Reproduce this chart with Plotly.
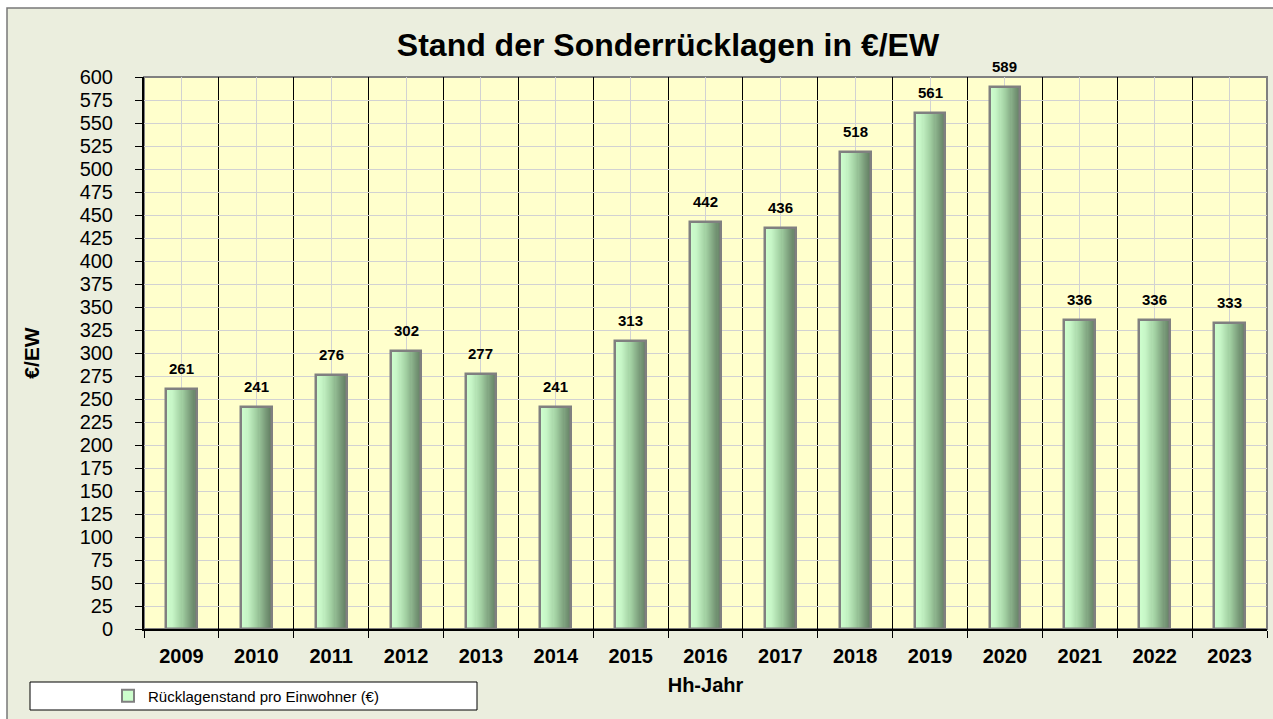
import plotly.graph_objects as go

# Reserve balance per inhabitant, by budget year
years = ["2009", "2010", "2011", "2012", "2013", "2014", "2015", "2016",
         "2017", "2018", "2019", "2020", "2021", "2022", "2023"]
values = [261, 241, 276, 302, 277, 241, 313, 442, 436, 518, 561, 589, 336, 336, 333]

series_name = "Rücklagenstand pro Einwohner (€)"
chart_title = "Stand der Sonderrücklagen in €/EW"
x_title = "Hh-Jahr"
y_title = "€/EW"

FONT = "Liberation Sans, Arial, sans-serif"
W, H = 1273, 719
L, R, T, B = 144, 6, 77, 90
PW, PH = W - L - R, H - T - B

BAR_W = 0.41
N_STRIPS = 28
BORDER = "rgb(128,128,128)"

# horizontal shading of the bars (light left edge -> dark right edge)
stops = [(0.0, (206, 255, 206)), (0.2, (198, 245, 198)), (0.5, (162, 208, 162)),
         (0.8, (122, 156, 122)), (1.0, (98, 126, 98))]


def shade(t):
    for (t0, c0), (t1, c1) in zip(stops[:-1], stops[1:]):
        if t <= t1:
            f = (t - t0) / (t1 - t0)
            return "rgb(%d,%d,%d)" % tuple(round(a + (b - a) * f) for a, b in zip(c0, c1))
    return "rgb(%d,%d,%d)" % stops[-1][1]


def px_x(px):
    return (px - L) / PW


def px_y(py):
    return (H - B - py) / PH


idx = list(range(len(years)))
fig = go.Figure()

for k in range(N_STRIPS):
    off = -BAR_W / 2 + k * BAR_W / N_STRIPS
    fig.add_trace(go.Bar(
        x=idx, y=values,
        width=[BAR_W - k * BAR_W / N_STRIPS] * len(idx),
        offset=[off] * len(idx),
        marker=dict(color=shade((k + 0.5) / N_STRIPS),
                    line=dict(color=BORDER, width=2 if k == 0 else 0)),
        name=series_name,
        showlegend=(k == 0),
        hoverinfo="skip",
    ))

# bar outlines
fig.add_trace(go.Bar(
    x=idx, y=values, width=[BAR_W] * len(idx), offset=[-BAR_W / 2] * len(idx),
    marker=dict(color="rgba(0,0,0,0)", line=dict(color=BORDER, width=2.5)),
    showlegend=False,
    customdata=years,
    hovertemplate="%{customdata}: %{y}<extra></extra>",
))

# value labels above the bars
annotations = [
    dict(x=i, y=v, xref="x", yref="y", text=str(v), showarrow=False,
         yanchor="bottom", yshift=10,
         font=dict(family=FONT, size=15, color="black", weight="bold"))
    for i, v in zip(idx, values)
]

shapes = [
    # chart area
    dict(type="rect", xref="paper", yref="paper", layer="below",
         x0=px_x(7), x1=px_x(W + 10), y0=px_y(H + 10), y1=px_y(8),
         fillcolor="rgb(235,238,222)", line=dict(color="rgb(120,120,120)", width=1.5)),
    # plot area
    dict(type="rect", xref="paper", yref="paper", layer="below",
         x0=0, x1=1, y0=0, y1=1,
         fillcolor="rgb(255,255,204)", line=dict(color=BORDER, width=2)),
    # legend box
    dict(type="rect", xref="paper", yref="paper", layer="below",
         x0=px_x(30), x1=px_x(477), y0=px_y(710), y1=px_y(682),
         fillcolor="white", line=dict(color="black", width=1)),
]

fig.update_layout(
    width=W, height=H,
    margin=dict(l=L, r=R, t=T, b=B, pad=0),
    paper_bgcolor="white",
    plot_bgcolor="rgba(0,0,0,0)",
    barmode="overlay",
    bargap=0,
    font=dict(family=FONT, color="black"),
    title=dict(text=chart_title, x=668 / W, xanchor="center",
               y=1 - 45 / H, yanchor="middle",
               font=dict(family=FONT, size=32, color="black", weight="bold")),
    xaxis=dict(
        range=[-0.5, len(years) - 0.5],
        tickmode="array", tickvals=idx, ticktext=years,
        ticks="", ticklabelstandoff=8,
        tickfont=dict(family=FONT, size=20, color="black", weight="bold"),
        showgrid=True, gridcolor="rgb(210,210,210)", gridwidth=1,
        minor=dict(tick0=0.5, dtick=1, ticks="outside", ticklen=7,
                   tickcolor="black", tickwidth=1,
                   showgrid=True, gridcolor="black", gridwidth=1),
        showline=True, linecolor="black", linewidth=2,
        zeroline=False, fixedrange=True,
        title=dict(text=x_title, standoff=12,
                   font=dict(family=FONT, size=20, color="black", weight="bold")),
    ),
    yaxis=dict(
        range=[0, 600], tick0=0, dtick=25,
        ticks="outside", ticklen=7, tickcolor="black", tickwidth=1,
        ticklabelstandoff=18,
        tickfont=dict(family=FONT, size=20, color="black"),
        showgrid=True, gridcolor="rgb(210,210,210)", gridwidth=1,
        showline=True, linecolor="black", linewidth=2,
        zeroline=False, fixedrange=True,
        title=dict(text=y_title, standoff=34,
                   font=dict(family=FONT, size=21, color="black", weight="bold")),
    ),
    legend=dict(
        x=px_x(246), xanchor="center", y=px_y(696), yanchor="middle",
        orientation="h", bgcolor="rgba(0,0,0,0)", borderwidth=0,
        font=dict(family=FONT, size=15, color="black"),
    ),
    shapes=shapes,
    annotations=annotations,
)

fig.write_html("out.html")
